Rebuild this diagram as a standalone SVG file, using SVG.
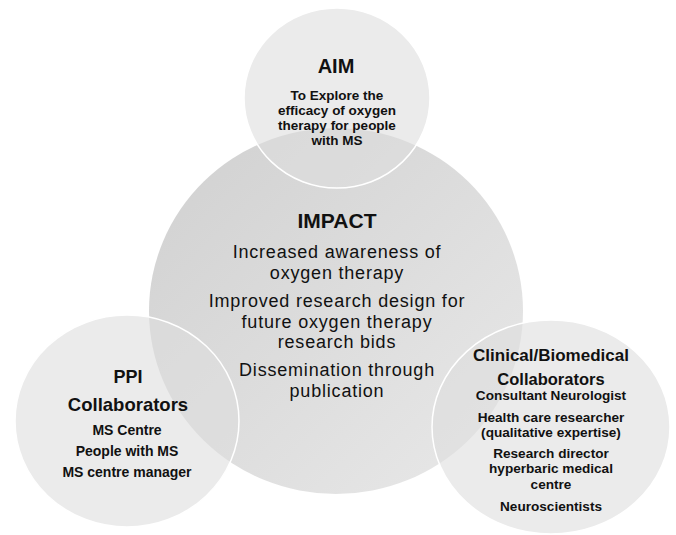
<svg xmlns="http://www.w3.org/2000/svg" width="676" height="535" viewBox="0 0 676 535">
<defs>
<linearGradient id="bigGrad" x1="0" y1="0" x2="1" y2="1">
<stop offset="0" stop-color="#d0d0d0"/>
<stop offset="1" stop-color="#e9e9e9"/>
</linearGradient>
<style>
.t{font-family:"Liberation Sans",Arial,sans-serif;fill:#111;text-anchor:middle}
.b{font-weight:bold}
.imp{font-size:18px;letter-spacing:0.8px}
.small{fill:#dedede;fill-opacity:0.6;stroke:#ffffff;stroke-width:1.5}
</style>
</defs>
<rect width="676" height="535" fill="#ffffff"/>
<g id="impact">
<ellipse cx="336" cy="311" rx="187" ry="183" fill="url(#bigGrad)"/>
<text class="t b" x="337" y="228" font-size="21">IMPACT</text>
<text class="t imp" x="337" y="258">Increased awareness of</text>
<text class="t imp" x="337" y="279">oxygen therapy</text>
<text class="t imp" x="337" y="307">Improved research design for</text>
<text class="t imp" x="337" y="327.5">future oxygen therapy</text>
<text class="t imp" x="337" y="348">research bids</text>
<text class="t imp" x="337" y="376">Dissemination through</text>
<text class="t imp" x="337" y="397">publication</text>
</g>
<g id="aim">
<ellipse class="small" cx="337" cy="98" rx="93" ry="90"/>
<text class="t b" x="336" y="73" font-size="20">AIM</text>
<text class="t b" x="337" y="100" font-size="13.5">To Explore the</text>
<text class="t b" x="337" y="115" font-size="13.5">efficacy of oxygen</text>
<text class="t b" x="337" y="130" font-size="13.5">therapy for people</text>
<text class="t b" x="337" y="145" font-size="13.5">with MS</text>
</g>
<g id="ppi">
<ellipse class="small" cx="127" cy="421" rx="112" ry="106"/>
<text class="t b" x="128" y="383" font-size="18">PPI</text>
<text class="t b" x="128" y="411" font-size="18.5">Collaborators</text>
<text class="t b" x="127" y="435" font-size="14">MS Centre</text>
<text class="t b" x="127" y="456" font-size="14">People with MS</text>
<text class="t b" x="127" y="477" font-size="14">MS centre manager</text>
</g>
<g id="clinical">
<ellipse class="small" cx="551" cy="427" rx="119" ry="107"/>
<text class="t b" x="551" y="361" font-size="17">Clinical/Biomedical</text>
<text class="t b" x="551" y="385" font-size="16.5">Collaborators</text>
<text class="t b" x="551" y="400" font-size="13.6">Consultant Neurologist</text>
<text class="t b" x="551" y="422" font-size="13.6">Health care researcher</text>
<text class="t b" x="551" y="437" font-size="13.6">(qualitative expertise)</text>
<text class="t b" x="551" y="458" font-size="13.6">Research director</text>
<text class="t b" x="551" y="473" font-size="13.6">hyperbaric medical</text>
<text class="t b" x="551" y="489" font-size="13.6">centre</text>
<text class="t b" x="551" y="511" font-size="13.6">Neuroscientists</text>
</g>
<g id="connectors"/>
</svg>
